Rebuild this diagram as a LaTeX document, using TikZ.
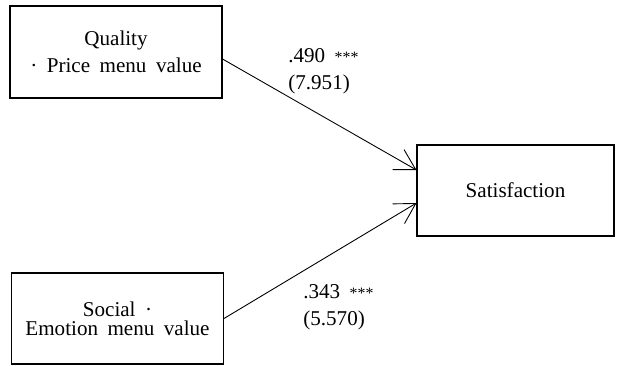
\documentclass[tikz,border=0pt]{standalone}
\usepackage{fontspec}
\setmainfont{Liberation Serif}[WordSpace=1.8]
\usetikzlibrary{arrows.meta}
\newcommand{\myfont}{\fontsize{12}{15.5}\selectfont}
\tikzset{
    varsty/.style={draw,rectangle,line width=0.6pt,align=center,font=\myfont,minimum width=4.24cm,minimum height=1.84cm},
    satsty/.style={varsty,minimum width=3.94cm,minimum height=1.82cm},
    coefsty/.style={anchor=north west,inner sep=0pt,align=left,font=\myfont},
    pathsty/.style={-{Straight Barb[length=4mm,width=4.6mm]},line width=0.5pt},
}

\begin{document}
\begin{tikzpicture}[x=0.02cm,y=-0.02cm]
\useasboundingbox (0,0) rectangle (625,365);

\node[varsty] (qual) at (116,52) {Quality\\· Price menu value};
\node[varsty,minimum height=1.82cm] (soc) at (117.5,318.5) {Social ·\\[-4.5pt]Emotion menu value};
\node[satsty] (sat) at (515.5,190.5) {Satisfaction};

\draw[pathsty] ([yshift=-0.14cm]qual.east) -- ([yshift=0.41cm]sat.west);
\draw[pathsty] (soc.east) -- ([yshift=-0.25cm]sat.west);

\node[coefsty] (b1) at (288,48) {.490 {\small ***}\\(7.951)};
\node[coefsty] (b2) at (303,284) {.343 {\small ***}\\(5.570)};
\end{tikzpicture}
\end{document}
